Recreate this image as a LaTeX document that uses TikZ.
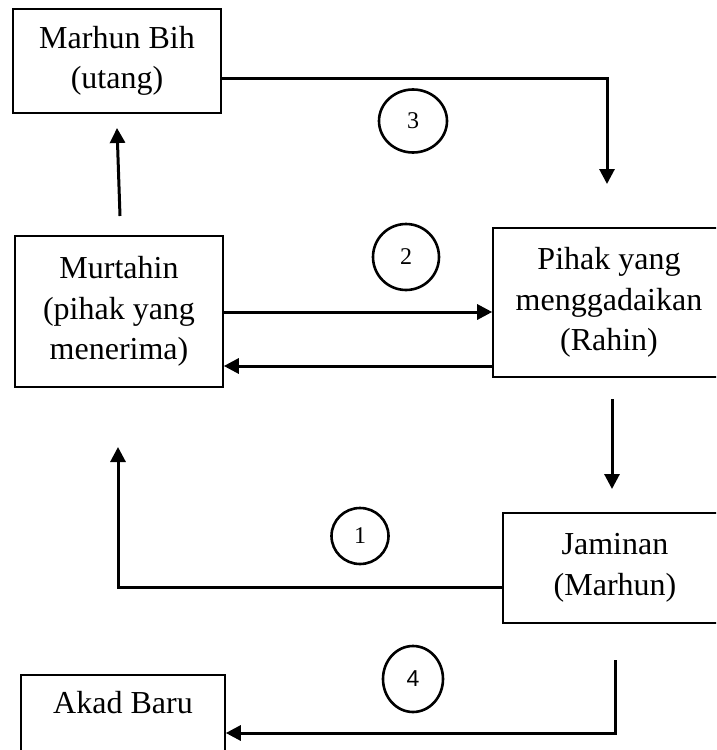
\documentclass[tikz,border=0pt]{standalone}
\usepackage{fontspec}
\setmainfont{Liberation Serif}
\newfontfamily\numsans{Liberation Sans}
\usetikzlibrary{arrows.meta,shapes.geometric}
\begin{document}
\begin{tikzpicture}[x=1pt,y=-1pt,
  box/.style={draw, line width=1.6pt, align=center, inner sep=0pt,
    font=\fontsize{32}{40.5}\selectfont},
  conn/.style={line width=3pt},
  arr/.style={line width=3pt, -{Triangle[length=15pt,width=15pt]}},
  num/.style={draw, ellipse, line width=2.6pt, inner sep=0pt,
    font=\fontsize{24}{28}\selectfont}]
\useasboundingbox (0,0) rectangle (716,750);
\clip (0,0) rectangle (716,750);
% boxes
\node[box, minimum width=208pt, minimum height=104pt] (mb) at (117,61) {Marhun Bih\\(utang)};
\node[box, minimum width=208pt, minimum height=151pt] (mt) at (119,311.5) {Murtahin\\(pihak yang\\menerima)};
\node[box, minimum width=232pt, minimum height=149pt] (ph) at (609,302.5) {Pihak yang\\menggadaikan\\(Rahin)};
\node[box, minimum width=224pt, minimum height=110pt] (jm) at (615,568) {Jaminan\\(Marhun)};
\node[box, anchor=north, minimum width=204pt, text height=22pt, text depth=60pt, inner ysep=17pt] (ak) at (123,674) {Akad Baru};
% numbers
\node[num, minimum width=68pt, minimum height=63pt] (n3) at (413,121) {3};
\node[num, minimum width=66pt, minimum height=66pt] (n2) at (406,257) {2};
\node[num, minimum width=57pt, minimum height=56pt] (n1) at (360,536) {1};
\node[num, minimum width=60pt, minimum height=66pt, font=\numsans\fontsize{23}{28}\selectfont] (n4) at (413,679) {4};
% free ends
\coordinate (c3) at (607,184);
\coordinate (up0) at (120,216);
\coordinate (up1) at (117,128);
\coordinate (dn0) at (612,399);
\coordinate (dn1) at (612,489);
\coordinate (c1) at (118,447);
\coordinate (c4a) at (615,660);
% connectors
\draw[arr] ([yshift=-17pt]mb.east) -| (c3);
\draw[arr] (up0) -- (up1);
\draw[arr] ([yshift=-0.5pt]mt.east) -- ([yshift=-0.5pt]mt.east -| ph.west);
\draw[arr] ([yshift=-63.5pt]ph.west) -- ([yshift=-63.5pt]ph.west -| mt.east);
\draw[arr] (dn0) -- (dn1);
\draw[arr] ([yshift=-19pt]jm.west) -| (c1);
\draw[arr] (c4a) |- ([yshift=-59pt]ak.north east);
\end{tikzpicture}
\end{document}
